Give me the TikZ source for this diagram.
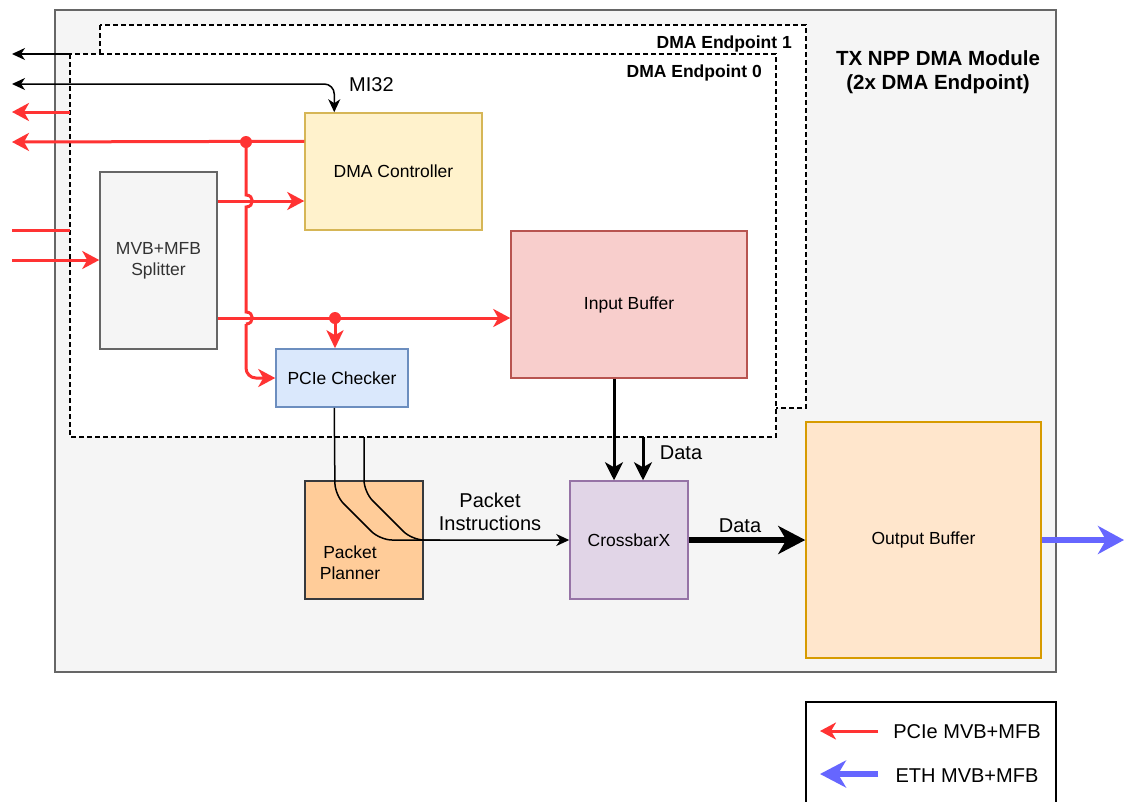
\documentclass[tikz,border=0pt]{standalone}
\usepackage{fontspec}
\setmainfont{Liberation Sans}
\usetikzlibrary{arrows.meta,calc}

\definecolor{pcie}{HTML}{FF3333}
\definecolor{eth}{HTML}{6666FF}
\definecolor{modfill}{HTML}{F5F5F5}
\definecolor{modline}{HTML}{666666}
\definecolor{ctlfill}{HTML}{FFF2CC}
\definecolor{ctlline}{HTML}{D6B656}
\definecolor{buffill}{HTML}{F8CECC}
\definecolor{bufline}{HTML}{B85450}
\definecolor{chkfill}{HTML}{DAE8FC}
\definecolor{chkline}{HTML}{6C8EBF}
\definecolor{planfill}{HTML}{FFCC99}
\definecolor{planline}{HTML}{36393D}
\definecolor{xbarfill}{HTML}{E1D5E7}
\definecolor{xbarline}{HTML}{9673A6}
\definecolor{obuffill}{HTML}{FFE6CC}
\definecolor{obufline}{HTML}{D79B00}
\definecolor{greytext}{HTML}{333333}

\begin{document}
\begin{tikzpicture}[x=1pt,y=-1pt,
  font=\fontsize{17.5}{21}\selectfont,
  block/.style={draw, line width=1.5pt, inner sep=0pt, align=center},
  edgelbl/.style={font=\fontsize{20}{23}\selectfont, align=center, inner sep=0pt},
  eplbl/.style={font=\fontsize{17.5}{21}\selectfont\bfseries, inner sep=0pt, anchor=east},
  epbox/.style={draw=black, fill=white, line width=1.5pt, dash pattern=on 5pt off 3pt},
  redbus/.style={draw=pcie, line width=3pt},
  redtip/.style={-{Stealth[length=17pt,width=18pt,inset=5pt]}},
  redtipdown/.style={-{Stealth[length=18pt,width=17pt,inset=5pt]}},
  blkthin/.style={draw=black, line width=1.5pt},
  thintip/.style={-{Stealth[length=13pt,width=12pt,inset=4pt]}},
  blkbus/.style={draw=black, line width=3pt, -{Stealth[length=18pt,width=18pt,inset=5pt]}},
  blkwide/.style={draw=black, line width=6.5pt, -{Stealth[length=27pt,width=28pt,inset=8pt]}},
  ethbus/.style={draw=eth, line width=6.5pt, -{Stealth[length=26pt,width=28pt,inset=8pt]}},
  junction/.style={circle, fill=pcie, inner sep=0pt, minimum size=12pt}
]
\useasboundingbox (0,0) rectangle (1124,801);
\fill[white] (0,0) rectangle (1124,801);
\clip (0,0) rectangle (1124,801);

% module frame and the two endpoint frames
\draw[fill=modfill, draw=modline, line width=1.5pt] (55,10) rectangle (1056,672);
\draw[epbox] (100,25) rectangle (806,408);
\draw[epbox] (70,54) rectangle (776,437);
\node[eplbl] (ep1lbl) at (792,43.5) {DMA Endpoint 1};
\node[eplbl] (ep0lbl) at (762,72.5) {DMA Endpoint 0};
\node[font=\fontsize{20.5}{23.5}\selectfont\bfseries, align=center, inner sep=0pt]
  (title) at (938,72) {TX NPP DMA Module\\(2x DMA Endpoint)};

% blocks
\node[block, draw=ctlline, fill=ctlfill, minimum width=177pt, minimum height=117pt]
  (dmactl) at (393.5,171.5) {DMA Controller};
\node[block, draw=modline, fill=modfill, text=greytext, minimum width=117pt, minimum height=177pt]
  (splitter) at (158.5,260.5) {MVB+MFB\\Splitter};
\node[block, draw=bufline, fill=buffill, minimum width=236pt, minimum height=147pt]
  (inbuf) at (629,304.5) {Input Buffer};
\node[block, draw=chkline, fill=chkfill, minimum width=132pt, minimum height=58pt]
  (checker) at (342,378) {PCIe Checker};
\node[block, draw=planline, fill=planfill, minimum width=118pt, minimum height=118pt]
  (planner) at (364,540) {};
\node[align=center, inner sep=0pt] (plannerlbl) at (350,563) {Packet\\Planner};
\node[block, draw=xbarline, fill=xbarfill, minimum width=118pt, minimum height=118pt]
  (xbar) at (629,540) {CrossbarX};
\node[block, draw=obufline, fill=obuffill, minimum width=235pt, minimum height=236pt]
  (outbuf) at (923.5,540) {Output Buffer};

% outer ports
\coordinate (ep1out) at (12,54);
\coordinate (ep0corner) at (70,54);
\coordinate (mi32port) at (12,84);
\coordinate (ep1rd) at (70,112);
\coordinate (ep1rdout) at (12,112);
\coordinate (rdout) at (12,142);
\coordinate (ep1in) at (12,230);
\coordinate (ep1inend) at (70,230);
\coordinate (pciein) at (12,260);
\coordinate (ethout) at (1124,540);

% MI32 buses
\draw[blkthin, thintip] (ep0corner) -- (ep1out);
\draw[blkthin, {Stealth[length=13pt,width=12pt,inset=4pt]}-{Stealth[length=13pt,width=12pt,inset=4pt]}, rounded corners=10pt]
  (mi32port) -| ($(dmactl.north west)+(30,0)$);
\node[edgelbl, anchor=west] (mi32lbl) at (349,85) {MI32};

% PCIe read/write buses
\draw[redbus, redtip] (ep1rd) -- (ep1rdout);
\coordinate (jdot) at (246,142);
\draw[redbus, redtip] ($(dmactl.north west)+(0,29)$) -- (rdout);
\draw[redbus] (ep1in) -- (ep1inend);
\draw[redbus, redtip] (pciein) -- (pciein -| splitter.west);

\coordinate (wrrow) at (0,201);
\coordinate (rdrow) at (0,318);
\draw[redbus, redtip] (splitter.east |- wrrow) -- (dmactl.west |- wrrow);
\draw[redbus, redtip] (splitter.east |- rdrow) -- (inbuf.west |- rdrow);
\coordinate (cdot) at (335,318);
\draw[redbus, redtipdown] (cdot) -- (checker.north -| cdot);

% vertical tap with line jumps over the splitter outputs
\draw[redbus] (jdot) -- (246,195) .. controls (254.5,195) and (254.5,207) .. (246,207)
  -- (246,312) .. controls (254.5,312) and (254.5,324) .. (246,324);
\draw[redbus, redtip, rounded corners=10pt] (246,324) |- (checker.west);

\node[junction] (jdotmark) at (jdot) {};
\node[junction] (cdotmark) at (cdot) {};

% packet instructions
\coordinate (pi2) at (364,437);
\draw[blkthin, thintip, rounded corners=12pt]
  ($(checker.south west)+(59,0)$) -- (335,495) -- (380,540) -- (xbar.west);
\draw[blkthin, rounded corners=12pt] (pi2) -- (364,492) -- (412,540) -- (440,540);
\node[edgelbl] (pilbl) at (490,512) {Packet\\Instructions};

% data paths
\coordinate (d2) at (643,437);
\draw[blkbus] ($(inbuf.south)+(-15,0)$) -- ($(xbar.north)+(-15,0)$);
\draw[blkbus] (d2) -- ($(xbar.north)+(14,0)$);
\node[edgelbl] (datalbl1) at (681,453) {Data};
\draw[blkwide] (xbar.east) -- (outbuf.west);
\node[edgelbl] (datalbl2) at (740,526) {Data};
\draw[ethbus] (outbuf.east) -- (ethout);

% legend
\draw[line width=1.5pt] (806,702) rectangle (1056,812);
\coordinate (lg1a) at (878,731);
\coordinate (lg1b) at (820,731);
\coordinate (lg2a) at (878,774);
\coordinate (lg2b) at (820,774);
\draw[redbus, -{Stealth[length=16pt,width=17pt,inset=5pt]}] (lg1a) -- (lg1b);
\draw[ethbus, -{Stealth[length=26pt,width=27pt,inset=8pt]}] (lg2a) -- (lg2b);
\node[edgelbl] (lg1lbl) at (967,732) {PCIe MVB+MFB};
\node[edgelbl] (lg2lbl) at (967,776) {ETH MVB+MFB};
\end{tikzpicture}
\end{document}
